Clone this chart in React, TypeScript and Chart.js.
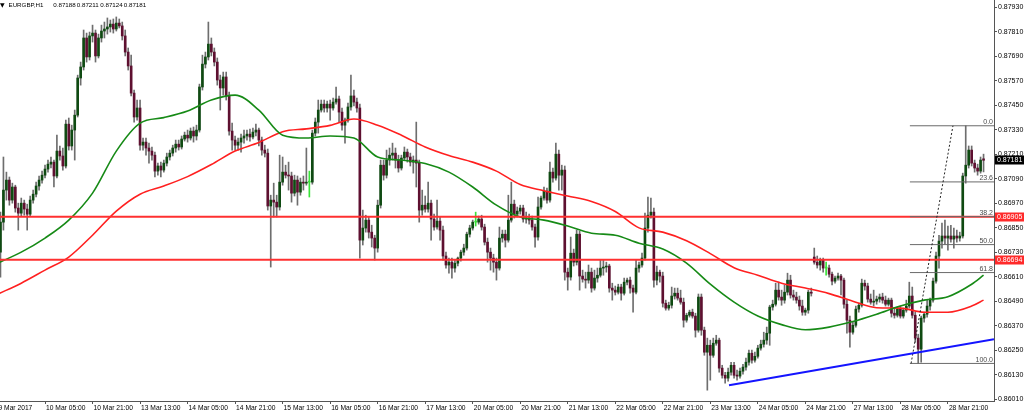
import React, { useEffect, useRef } from "react";
import { Chart, registerables } from "chart.js";

Chart.register(...registerables);

// Prices are stored in points (1 point = 0.00001)
const POINT = 100000;

// EURGBP H1 candles, 9 Mar 2017 13:00 -> 29 Mar 2017 09:00
const opens = [
  86912, 86731, 86878, 87035, 87084, 86986, 87050, 86947, 86922, 86971,
  86942, 86917, 86986, 87015, 87055, 87084, 87108, 87138, 87162, 87172,
  87104, 87226, 87202, 87153, 87358, 87251, 87329, 87402, 87584, 87638,
  87780, 87687, 87790, 87804, 87692, 87780, 87814, 87824, 87834, 87848,
  87824, 87853, 87839, 87790, 87711, 87643, 87510, 87393, 87437, 87255,
  87270, 87241, 87226, 87206, 87128, 87153, 87133, 87167, 87197, 87216,
  87241, 87260, 87246, 87285, 87304, 87290, 87324, 87300, 87329, 87540,
  87652, 87687, 87750, 87711, 87662, 87574, 87535, 87589, 87496, 87324,
  87280, 87255, 87270, 87290, 87300, 87309, 87295, 87319, 87329, 87280,
  87231, 87216, 86957, 86986, 86976, 86952, 87074, 87123, 87108, 87104,
  87020, 87084, 87025, 87074, 87069, 87074, 87074, 87314, 87368, 87427,
  87456, 87437, 87456, 87437, 87466, 87481, 87417, 87353, 87378, 87442,
  87496, 87466, 87437, 86790, 86849, 86888, 86829, 86800, 86751, 86961,
  87157, 87108, 87182, 87206, 87216, 87182, 87143, 87192, 87221, 87197,
  87172, 87182, 87167, 86937, 86961, 86942, 86971, 86893, 86854, 86883,
  86839, 86712, 86668, 86682, 86653, 86677, 86702, 86731, 86751, 86819,
  86849, 86878, 86878, 86893, 86854, 86780, 86731, 86702, 86682, 86653,
  86800, 86819, 86790, 86888, 86966, 86917, 86932, 86947, 86893, 86898,
  86888, 86854, 86805, 86952, 86996, 87030, 86986, 87123, 87094, 87211,
  87108, 87133, 86633, 86609, 86726, 86682, 86819, 86614, 86599, 86594,
  86633, 86555, 86604, 86618, 86653, 86658, 86663, 86555, 86545, 86535,
  86560, 86530, 86584, 86594, 86555, 86535, 86653, 86668, 86702, 86849,
  86912, 86927, 86594, 86633, 86614, 86481, 86457, 86471, 86516, 86530,
  86506, 86486, 86398, 86422, 86437, 86418, 86349, 86511, 86349, 86241,
  86275, 86226, 86285, 86300, 86163, 86128, 86114, 86143, 86177, 86128,
  86124, 86148, 86168, 86192, 86236, 86202, 86221, 86261, 86280, 86300,
  86334, 86462, 86476, 86545, 86511, 86496, 86535, 86594, 86521, 86511,
  86496, 86467, 86437, 86447, 86535, 86707, 86682, 86668, 86692, 86653,
  86653, 86623, 86589, 86604, 86614, 86594, 86476, 86398, 86339, 86373,
  86452, 86471, 86579, 86565, 86501, 86486, 86491, 86501, 86511, 86496,
  86476, 86496, 86432, 86422, 86452, 86418, 86447, 86467, 86516, 86422,
  86310, 86256, 86408, 86427, 86467, 86496, 86589, 86712, 86785, 86810,
  86800, 86810, 86795, 86810, 86800, 86810, 87104, 87157, 87231, 87167,
  87143, 87128, 87188,
];

const highs = [
  86947, 86927, 87197, 87123, 87099, 87069, 87059, 86971, 86996, 86986,
  86966, 87006, 87035, 87074, 87104, 87128, 87157, 87182, 87197, 87182,
  87304, 87251, 87241, 87378, 87388, 87353, 87427, 87598, 87662, 87819,
  87804, 87809, 87843, 87819, 87799, 87843, 87858, 87878, 87868, 87873,
  87883, 87873, 87858, 87819, 87731, 87696, 87525, 87476, 87476, 87290,
  87290, 87265, 87246, 87221, 87167, 87172, 87182, 87216, 87231, 87255,
  87280, 87280, 87300, 87319, 87329, 87339, 87344, 87353, 87554, 87696,
  87711, 87858, 87780, 87731, 87682, 87598, 87613, 87613, 87515, 87363,
  87300, 87290, 87309, 87329, 87329, 87334, 87339, 87358, 87339, 87295,
  87255, 87236, 87010, 87069, 87010, 87206, 87197, 87157, 87172, 87123,
  87108, 87104, 87094, 87104, 87241, 87128, 87329, 87388, 87476, 87476,
  87476, 87471, 87476, 87486, 87540, 87496, 87437, 87388, 87461, 87598,
  87525, 87486, 87456, 86937, 86912, 86903, 86863, 86814, 86986, 87182,
  87182, 87231, 87241, 87265, 87241, 87206, 87206, 87246, 87236, 87216,
  87202, 87368, 87182, 87035, 87006, 87074, 86986, 86917, 86986, 86903,
  86859, 86731, 86702, 86702, 86692, 86707, 86741, 86770, 86829, 86863,
  86888, 86927, 86908, 86912, 86868, 86800, 86751, 86721, 86702, 86854,
  86839, 86839, 87010, 87074, 86986, 86952, 86961, 86961, 86927, 86917,
  86908, 86868, 87001, 87006, 87050, 87045, 87172, 87143, 87265, 87231,
  87157, 87153, 86653, 86805, 86746, 86839, 86834, 86643, 86633, 86668,
  86653, 86643, 86653, 86692, 86692, 86682, 86672, 86579, 86565, 86574,
  86574, 86604, 86604, 86609, 86570, 86692, 86682, 86726, 86922, 87001,
  86996, 86947, 86663, 86643, 86633, 86496, 86486, 86560, 86555, 86555,
  86545, 86506, 86432, 86447, 86452, 86432, 86526, 86526, 86364, 86310,
  86300, 86310, 86324, 86310, 86177, 86143, 86163, 86192, 86192, 86153,
  86163, 86182, 86212, 86251, 86251, 86241, 86275, 86300, 86339, 86364,
  86471, 86496, 86579, 86584, 86545, 86570, 86628, 86618, 86545, 86535,
  86516, 86496, 86457, 86545, 86555, 86751, 86712, 86702, 86702, 86682,
  86668, 86633, 86614, 86628, 86623, 86604, 86496, 86418, 86388, 86467,
  86481, 86599, 86594, 86579, 86526, 86545, 86516, 86526, 86530, 86516,
  86506, 86506, 86457, 86462, 86467, 86457, 86496, 86584, 86560, 86437,
  86329, 86418, 86437, 86496, 86506, 86604, 86731, 86814, 86873, 86888,
  86859, 86863, 86849, 86839, 86829, 87118, 87350, 87251, 87251, 87182,
  87162, 87197, 87211,
];

const lows = [
  86702, 86609, 86839, 86986, 86961, 86971, 86927, 86839, 86908, 86912,
  86839, 86908, 86971, 87001, 87035, 87069, 87094, 87123, 87143, 87050,
  87094, 87182, 87133, 87143, 87231, 87231, 87182, 87393, 87549, 87623,
  87662, 87672, 87760, 87662, 87682, 87760, 87780, 87799, 87809, 87804,
  87814, 87829, 87770, 87692, 87623, 87496, 87368, 87378, 87231, 87231,
  87206, 87167, 87182, 87099, 87108, 87099, 87123, 87153, 87182, 87202,
  87221, 87231, 87236, 87275, 87270, 87280, 87270, 87280, 87319, 87525,
  87633, 87672, 87692, 87643, 87549, 87427, 87500, 87476, 87304, 87231,
  87231, 87231, 87221, 87265, 87280, 87275, 87285, 87300, 87251, 87206,
  87197, 86937, 86658, 86903, 86903, 86937, 87059, 87094, 87035, 86976,
  87006, 86961, 87010, 87035, 87059, 87001, 87064, 87300, 87314, 87417,
  87417, 87417, 87378, 87427, 87456, 87368, 87329, 87265, 87368, 87427,
  87447, 87417, 86702, 86766, 86829, 86800, 86756, 86692, 86731, 86947,
  87084, 87094, 87157, 87182, 87143, 87123, 87133, 87182, 87172, 87153,
  87118, 87050, 86878, 86912, 86927, 86927, 86790, 86839, 86844, 86790,
  86692, 86653, 86628, 86604, 86633, 86663, 86687, 86716, 86741, 86805,
  86839, 86859, 86868, 86839, 86766, 86682, 86643, 86633, 86594, 86643,
  86780, 86756, 86780, 86878, 86898, 86903, 86917, 86878, 86873, 86868,
  86839, 86756, 86790, 86942, 86986, 86971, 86976, 87074, 87084, 87035,
  87035, 86594, 86545, 86594, 86663, 86668, 86545, 86584, 86555, 86579,
  86535, 86545, 86584, 86609, 86618, 86633, 86535, 86496, 86521, 86526,
  86496, 86521, 86570, 86530, 86437, 86526, 86633, 86658, 86692, 86829,
  86898, 86560, 86570, 86584, 86462, 86447, 86447, 86457, 86501, 86496,
  86476, 86364, 86388, 86413, 86408, 86315, 86339, 86324, 86226, 86055,
  86104, 86216, 86275, 86143, 86114, 86089, 86099, 86128, 86114, 86104,
  86114, 86133, 86153, 86177, 86187, 86192, 86212, 86251, 86266, 86280,
  86275, 86447, 86467, 86496, 86471, 86481, 86521, 86506, 86496, 86481,
  86447, 86422, 86422, 86432, 86516, 86672, 86653, 86643, 86633, 86618,
  86609, 86570, 86579, 86594, 86521, 86457, 86334, 86266, 86329, 86364,
  86437, 86462, 86545, 86486, 86476, 86467, 86476, 86486, 86481, 86467,
  86467, 86413, 86408, 86413, 86408, 86408, 86437, 86457, 86408, 86290,
  86186, 86192, 86388, 86413, 86447, 86486, 86579, 86653, 86751, 86770,
  86741, 86780, 86751, 86780, 86785, 86800, 87069, 87143, 87153, 87123,
  87108, 87118, 87124,
];

const closes = [
  86731, 86878, 87035, 87084, 86986, 87050, 86947, 86922, 86971, 86942,
  86917, 86986, 87015, 87055, 87084, 87108, 87138, 87162, 87172, 87104,
  87226, 87202, 87153, 87358, 87251, 87329, 87402, 87584, 87638, 87780,
  87687, 87790, 87804, 87692, 87780, 87814, 87824, 87834, 87848, 87824,
  87853, 87839, 87790, 87711, 87643, 87510, 87393, 87437, 87255, 87270,
  87241, 87226, 87206, 87128, 87153, 87133, 87167, 87197, 87216, 87241,
  87260, 87246, 87285, 87304, 87290, 87324, 87300, 87329, 87540, 87652,
  87687, 87750, 87711, 87662, 87574, 87535, 87589, 87496, 87324, 87280,
  87255, 87270, 87290, 87300, 87309, 87295, 87319, 87329, 87280, 87231,
  87216, 86957, 86986, 86976, 86952, 87074, 87123, 87108, 87104, 87020,
  87084, 87025, 87074, 87069, 87074, 87074, 87314, 87368, 87427, 87456,
  87437, 87456, 87437, 87466, 87481, 87417, 87353, 87378, 87442, 87496,
  87466, 87437, 86790, 86849, 86888, 86829, 86800, 86751, 86961, 87157,
  87108, 87182, 87206, 87216, 87182, 87143, 87192, 87221, 87197, 87172,
  87182, 87167, 86937, 86961, 86942, 86971, 86893, 86854, 86883, 86839,
  86712, 86668, 86682, 86653, 86677, 86702, 86731, 86751, 86819, 86849,
  86878, 86878, 86893, 86854, 86780, 86731, 86702, 86682, 86653, 86800,
  86819, 86790, 86888, 86966, 86917, 86932, 86947, 86893, 86898, 86888,
  86854, 86805, 86952, 86996, 87030, 86986, 87123, 87094, 87211, 87108,
  87133, 86633, 86609, 86726, 86682, 86819, 86614, 86599, 86594, 86633,
  86555, 86604, 86618, 86653, 86658, 86663, 86555, 86545, 86535, 86560,
  86530, 86584, 86594, 86555, 86535, 86653, 86668, 86702, 86849, 86912,
  86927, 86594, 86633, 86614, 86481, 86457, 86471, 86516, 86530, 86506,
  86486, 86398, 86422, 86437, 86418, 86349, 86511, 86349, 86241, 86275,
  86226, 86285, 86300, 86163, 86128, 86114, 86143, 86177, 86128, 86124,
  86148, 86168, 86192, 86236, 86202, 86221, 86261, 86280, 86300, 86334,
  86462, 86476, 86545, 86511, 86496, 86535, 86594, 86521, 86511, 86496,
  86467, 86437, 86447, 86535, 86530, 86682, 86668, 86692, 86653, 86653,
  86623, 86589, 86604, 86614, 86594, 86476, 86398, 86339, 86373, 86452,
  86471, 86579, 86565, 86501, 86486, 86491, 86501, 86511, 86496, 86476,
  86496, 86432, 86422, 86452, 86418, 86447, 86467, 86516, 86422, 86310,
  86256, 86408, 86427, 86467, 86496, 86589, 86712, 86785, 86810, 86800,
  86810, 86795, 86810, 86800, 86810, 87104, 87157, 87231, 87167, 87143,
  87128, 87182, 87181,
];

// Time axis (bar index of each label, one label every 16 hourly bars)
const xTickIndex = [0, 16, 32, 48, 64, 80, 96, 112, 128, 144, 160, 176, 192, 208, 224, 240, 256, 272, 288, 304, 320];
const xTickLabels = [
  "9 Mar 2017", "10 Mar 05:00", "10 Mar 21:00", "13 Mar 13:00", "14 Mar 05:00",
  "14 Mar 21:00", "15 Mar 13:00", "16 Mar 05:00", "16 Mar 21:00", "17 Mar 13:00",
  "20 Mar 05:00", "20 Mar 21:00", "21 Mar 13:00", "22 Mar 05:00", "22 Mar 21:00",
  "23 Mar 13:00", "24 Mar 05:00", "24 Mar 21:00", "27 Mar 13:00", "28 Mar 05:00",
  "28 Mar 21:00",
];

// Price axis ticks
const yTickValues = [
  0.8601, 0.8613, 0.8625, 0.8637, 0.8649, 0.8661, 0.8673, 0.8685, 0.8697,
  0.8709, 0.8721, 0.8733, 0.8745, 0.8757, 0.8769, 0.8781, 0.8793,
];

const maIndex = [
  0, 8, 16, 24, 32, 40, 48, 56, 64, 72, 80, 88, 96, 104, 112, 120, 128, 136, 144, 152,
  160, 168, 176, 184, 192, 200, 208, 216, 224, 232, 240, 248, 256, 264, 272, 280, 288,
  296, 304, 312, 320, 328, 332,
];
const maGreen = [
  86677, 86731, 86800, 86888, 87020, 87226, 87363, 87390, 87422, 87476,
  87500, 87427, 87304, 87290, 87300, 87290, 87197, 87182, 87165, 87123,
  87050, 86961, 86903, 86888, 86859, 86824, 86814, 86775, 86746, 86677,
  86574, 86486, 86418, 86376, 86351, 86364, 86391, 86427, 86467, 86496,
  86513, 86574, 86618,
];
const maRed = [
  86525, 86579, 86643, 86707, 86814, 86932, 87015, 87055, 87101, 87160,
  87226, 87268, 87321, 87335, 87352, 87383, 87353, 87304, 87246, 87204,
  87172, 87128, 87062, 87032, 87006, 86979, 86930, 86850, 86829, 86787,
  86724, 86655, 86618, 86579, 86555, 86528, 86491, 86459, 86457, 86437,
  86437, 86467, 86496,
];

// Horizontal support / resistance lines
const hLevels = [0.86905, 0.86694];

// Fibonacci retracement
const fibNames = ["0.0", "23.6", "38.2", "50.0", "61.8", "100.0"];
const fibPrices = [0.8735, 0.87075, 0.86905, 0.86768, 0.86631, 0.86186];
const fibStartIndex = 307.2;
const fibDiagX = [307.6, 321.7];
const fibDiagY = [0.86186, 0.8735];

// Blue trend line
const trendX = [246.3, 335.52];
const trendY = [0.86079, 0.86305];

const lastPrice = 0.87181;
const headerSymbol = "EURGBP,H1";
const headerValues = ["0.87188", "0.87211", "0.87124", "0.87181"];

const X_MIN = 0.842;
const X_MAX = 335.52;
const Y_MIN = 0.86002;
const Y_MAX = 0.87966;

const FONT = "'Liberation Sans', Arial, sans-serif";
const BULL = "#0f4a12";
const BEAR = "#5e1030";
const DOJI = "#39e239";
const WICK = "#6e6e6e";

export default function App() {
  const ref = useRef<HTMLCanvasElement | null>(null);

  useEffect(() => {
    const canvas = ref.current;
    if (!canvas) return;
    Chart.defaults.font.family = FONT;

    const bodyColors = closes.map((c, i) => (c > opens[i] ? BULL : c < opens[i] ? BEAR : DOJI));
    const wickColors = closes.map((c, i) => (c === opens[i] ? DOJI : WICK));
    const wickData = closes.map((_, i) => ({ x: i, y: [lows[i] / POINT, highs[i] / POINT] }));
    const bodyData = closes.map((c, i) => ({
      x: i,
      y: [Math.min(opens[i], c) / POINT, Math.max(opens[i], c) / POINT],
    }));

    const line = (data: any[], color: string, width: number, order: number, extra: any = {}) => ({
      type: "line" as const,
      data,
      borderColor: color,
      borderWidth: width,
      pointRadius: 0,
      fill: false,
      order,
      ...extra,
    });

    const datasets: any[] = [
      {
        type: "bar",
        data: wickData,
        backgroundColor: wickColors,
        barThickness: 1,
        grouped: false,
        borderWidth: 0,
        order: 20,
      },
      {
        type: "bar",
        data: bodyData,
        backgroundColor: bodyColors,
        barThickness: 2,
        grouped: false,
        borderWidth: 0,
        minBarLength: 1,
        order: 19,
      },
      line(maIndex.map((x, k) => ({ x, y: maRed[k] / POINT })), "#ff2020", 1.6, 10, {
        cubicInterpolationMode: "monotone",
      }),
      line(maIndex.map((x, k) => ({ x, y: maGreen[k] / POINT })), "#168a16", 1.6, 9, {
        cubicInterpolationMode: "monotone",
      }),
      ...hLevels.map((p) => line([{ x: X_MIN, y: p }, { x: X_MAX, y: p }], "#ff3030", 2, 8)),
      ...fibPrices.map((p) => line([{ x: fibStartIndex, y: p }, { x: X_MAX, y: p }], "#6a6a6a", 1, 7)),
      line(
        [{ x: fibDiagX[0], y: fibDiagY[0] }, { x: fibDiagX[1], y: fibDiagY[1] }],
        "#222222",
        1,
        6,
        { borderDash: [2, 2] }
      ),
      line([{ x: trendX[0], y: trendY[0] }, { x: trendX[1], y: trendY[1] }], "#1414ff", 2, 5),
    ];

    const overlay = {
      id: "overlay",
      afterDraw(chart: any) {
        const { ctx } = chart;
        const y = chart.scales.y;
        ctx.save();
        // Fibonacci level labels
        ctx.font = `7px ${FONT}`;
        ctx.fillStyle = "#4a4a4a";
        ctx.textAlign = "right";
        ctx.textBaseline = "alphabetic";
        fibPrices.forEach((p, k) => {
          ctx.fillText(fibNames[k], 993, y.getPixelForValue(p) - 1.5);
        });
        // Price tags on the axis
        const tag = (p: number, bg: string) => {
          const py = Math.round(y.getPixelForValue(p));
          ctx.fillStyle = bg;
          ctx.fillRect(995, py - 4.5, 29, 9);
          ctx.fillStyle = "#ffffff";
          ctx.textAlign = "left";
          ctx.textBaseline = "middle";
          ctx.font = `7px ${FONT}`;
          ctx.fillText(p.toFixed(5), 997, py + 0.5);
        };
        hLevels.forEach((p) => tag(p, "#ff2a2a"));
        tag(lastPrice, "#000000");
        // Header
        ctx.fillStyle = "#000000";
        ctx.textAlign = "left";
        ctx.textBaseline = "middle";
        ctx.font = "6px 'DejaVu Sans', sans-serif";
        ctx.fillText("\u25BC", 0, 5);
        ctx.font = `6.2px ${FONT}`;
        ctx.fillText(headerSymbol, 8.5, 5);
        headerValues.forEach((v, k) => ctx.fillText(v, 53.3 + k * 23.5, 5));
        ctx.restore();
      },
    };

    const chart = new Chart(canvas, {
      type: "bar",
      data: { datasets },
      options: {
        responsive: false,
        animation: false,
        devicePixelRatio: 1,
        events: [],
        layout: { padding: 0 },
        plugins: { legend: { display: false }, tooltip: { enabled: false } },
        scales: {
          x: {
            type: "linear",
            min: X_MIN,
            max: X_MAX,
            offset: false,
            afterBuildTicks: (s: any) => {
              s.ticks = xTickIndex.map((v) => ({ value: v }));
            },
            afterFit: (s: any) => {
              s.height = 14;
              s.paddingLeft = 0;
              s.paddingRight = 0;
            },
            ticks: {
              autoSkip: false,
              maxRotation: 0,
              minRotation: 0,
              align: "start",
              labelOffset: 1,
              padding: 0,
              color: "#000000",
              font: { size: 6.7, family: FONT },
              callback: (_v: any, idx: number) => xTickLabels[idx] ?? "",
            },
            grid: { drawOnChartArea: false, offset: false, tickLength: 3, color: "#555555" },
            border: { color: "#555555", width: 1 },
          },
          y: {
            type: "linear",
            position: "right",
            min: Y_MIN,
            max: Y_MAX,
            afterBuildTicks: (s: any) => {
              s.ticks = yTickValues.map((v) => ({ value: v }));
            },
            afterFit: (s: any) => {
              s.width = 30;
              s.paddingTop = 0;
              s.paddingBottom = 0;
            },
            ticks: {
              padding: 1,
              color: "#000000",
              font: { size: 7, family: FONT },
              callback: (v: any) => Number(v).toFixed(5),
            },
            grid: { drawOnChartArea: false, tickLength: 3, color: "#555555" },
            border: { color: "#555555", width: 1 },
          },
        },
      } as any,
      plugins: [overlay],
    });

    return () => chart.destroy();
  }, []);

  return (
    <div style={{ position: "absolute", left: 0, top: 0, width: 1024, height: 415, background: "#ffffff" }}>
      <canvas ref={ref} width={1024} height={415} style={{ display: "block" }} />
    </div>
  );
}
